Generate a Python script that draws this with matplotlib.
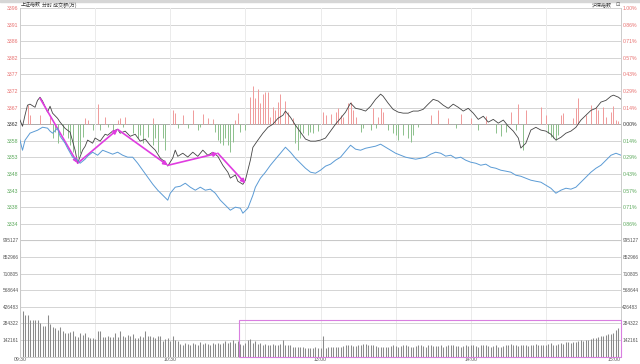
import numpy as np
import matplotlib
matplotlib.use("Agg")
import matplotlib.pyplot as plt
from matplotlib.patches import Rectangle

plt.rcParams['font.family'] = ['Liberation Sans', 'Noto Sans CJK SC', 'DejaVu Sans']

prev_close = 3362.4

# 上证指数 分时 (minute index, price)
sh_min = [0, 1, 2, 3, 4, 6, 7, 8, 9, 11, 12, 13, 15, 16, 17, 18, 20, 22, 23, 25,
          26, 27, 29, 30, 32, 34, 35, 37, 39, 40, 42, 44, 46, 48, 50, 52, 54, 56, 58, 59,
          61, 62, 63, 65, 67, 69, 71, 73, 75, 77, 79, 81, 83, 84, 86, 87, 89, 90, 92, 93,
          95, 97, 99, 101, 103, 105, 106, 108, 110, 112, 114, 116, 118, 120, 122, 124, 126, 128, 130, 132,
          134, 136, 138, 140, 142, 144, 145, 147, 149, 151, 153, 155, 157, 159, 161, 163, 165, 167, 169, 171,
          173, 175, 177, 179, 181, 183, 185, 187, 189, 191, 193, 195, 197, 199, 200, 202, 204, 206, 208, 210,
          212, 214, 216, 218, 220, 222, 224, 226, 228, 230, 232, 234, 236, 237, 239, 240]
sh_price = [3363.6, 3361.8, 3365.0, 3367.9, 3368.2, 3367.3, 3369.3, 3370.2, 3369.1, 3365.9,
            3367.6, 3365.6, 3364.1, 3363.0, 3362.1, 3361.2, 3360.1, 3354.9, 3351.1, 3354.9,
            3356.0, 3357.8, 3356.9, 3358.4, 3357.5, 3359.5, 3359.2, 3360.4, 3360.9, 3359.8,
            3360.4, 3358.9, 3359.5, 3357.5, 3358.1, 3356.3, 3354.9, 3352.6, 3351.4, 3350.3,
            3352.6, 3354.9, 3353.1, 3354.0, 3352.9, 3354.3, 3353.1, 3354.9, 3353.4, 3354.3,
            3353.1, 3350.5, 3348.5, 3346.8, 3347.7, 3345.9, 3345.0, 3346.2, 3352.0, 3355.7,
            3357.8, 3359.8, 3361.5, 3362.4, 3364.1, 3365.0, 3366.2, 3364.4, 3362.1, 3360.1,
            3358.1, 3357.5, 3357.5, 3357.8, 3358.4, 3360.4, 3362.4, 3364.1, 3365.9, 3368.5,
            3367.0, 3366.7, 3366.2, 3367.6, 3369.6, 3371.1, 3370.5, 3368.5, 3366.7, 3365.9,
            3365.6, 3365.6, 3366.2, 3366.2, 3366.7, 3368.2, 3369.6, 3369.1, 3367.9, 3367.0,
            3368.2, 3367.3, 3366.2, 3367.0, 3365.6, 3363.8, 3364.7, 3363.0, 3363.8, 3362.7,
            3363.6, 3361.8, 3360.4, 3358.4, 3355.5, 3356.9, 3360.7, 3361.5, 3360.7, 3360.4,
            3359.5, 3357.8, 3358.6, 3359.8, 3360.4, 3361.5, 3363.6, 3365.0, 3366.4, 3367.0,
            3368.8, 3369.3, 3370.5, 3370.8, 3370.2, 3369.6]

# 沪深 index, change in percent (blue)
hs_min = [0, 1, 2, 4, 6, 7, 9, 11, 12, 13, 15, 16, 18, 19, 21, 23, 24, 26, 27, 29,
          31, 33, 35, 37, 39, 41, 43, 45, 47, 49, 51, 53, 55, 57, 59, 60, 62, 64, 66, 68,
          70, 72, 74, 76, 78, 80, 82, 84, 86, 88, 89, 91, 93, 94, 96, 98, 100, 102, 104, 106,
          108, 110, 112, 114, 116, 118, 120, 122, 124, 126, 128, 130, 132, 134, 136, 138, 140, 142, 144, 146,
          148, 150, 152, 154, 156, 158, 160, 162, 164, 166, 168, 170, 172, 174, 176, 178, 180, 182, 184, 186,
          188, 190, 192, 194, 196, 198, 200, 202, 204, 206, 208, 210, 212, 214, 216, 218, 220, 222, 224, 226,
          228, 230, 232, 234, 236, 238, 240]
hs_pct = [-0.138, -0.224, -0.138, -0.077, -0.060, -0.052, -0.026, -0.034, -0.060, -0.077,
          -0.034, -0.103, -0.164, -0.207, -0.284, -0.310, -0.336, -0.301, -0.275, -0.241,
          -0.267, -0.224, -0.241, -0.258, -0.241, -0.267, -0.284, -0.284, -0.336, -0.396,
          -0.456, -0.516, -0.568, -0.611, -0.654, -0.594, -0.542, -0.534, -0.508, -0.542,
          -0.568, -0.542, -0.568, -0.559, -0.594, -0.654, -0.697, -0.740, -0.714, -0.723,
          -0.766, -0.723, -0.611, -0.542, -0.465, -0.413, -0.353, -0.301, -0.250, -0.198,
          -0.241, -0.293, -0.336, -0.379, -0.413, -0.422, -0.396, -0.361, -0.344, -0.310,
          -0.284, -0.232, -0.181, -0.215, -0.224, -0.207, -0.198, -0.189, -0.172, -0.198,
          -0.224, -0.250, -0.267, -0.284, -0.293, -0.301, -0.293, -0.284, -0.258, -0.241,
          -0.250, -0.275, -0.267, -0.293, -0.284, -0.310, -0.327, -0.336, -0.353, -0.344,
          -0.370, -0.379, -0.396, -0.404, -0.413, -0.439, -0.448, -0.465, -0.482, -0.491,
          -0.499, -0.525, -0.551, -0.594, -0.568, -0.551, -0.559, -0.542, -0.499, -0.456,
          -0.413, -0.379, -0.353, -0.310, -0.267, -0.250, -0.267]

# red / green bars around the previous close (points)
up_min = [3, 4, 8, 12, 26, 27, 31, 34, 39, 40, 42, 53, 61, 62, 65, 69, 73, 75, 77, 86,
          87, 92, 93, 94, 95, 96, 97, 98, 99, 100, 101, 102, 103, 104, 106, 107, 109, 121, 122, 124,
          126, 127, 128, 129, 131, 132, 133, 134, 141, 143, 144, 145, 164, 167, 171, 176, 180, 186, 196, 199,
          202, 208, 210, 216, 217, 221, 222, 223, 226, 228, 230, 231, 233, 234, 236, 237, 238, 239]
up_val = [5.5, 2.6, 2.6, 2.0, 1.7, 1.2, 5.8, 2.0, 1.2, 1.7, 2.0, 1.7, 4.0, 3.2, 2.6, 4.0, 2.9, 1.7, 1.4, 1.2,
          3.2, 7.8, 11.0, 7.5, 10.1, 6.1, 8.7, 9.3, 9.3, 2.0, 4.9, 4.0, 6.4, 8.7, 6.6, 3.5, 1.7, 3.5, 2.6, 2.9,
          3.5, 4.6, 2.6, 2.0, 6.1, 6.4, 4.0, 2.0, 4.6, 2.0, 4.6, 3.5, 2.6, 4.0, 1.7, 2.9, 1.7, 2.3, 3.5, 5.8,
          4.0, 4.9, 2.6, 2.6, 3.2, 1.7, 4.6, 7.5, 2.6, 5.5, 4.9, 4.0, 4.9, 2.0, 3.5, 5.2, 1.2, 0.9]
down_min = [13, 14, 15, 17, 19, 20, 21, 23, 24, 25, 29, 32, 35, 37, 41, 45, 47, 48, 49, 51,
            53, 54, 55, 57, 58, 63, 67, 71, 72, 78, 79, 80, 81, 82, 83, 84, 85, 88, 90, 110,
            111, 112, 113, 115, 116, 117, 119, 136, 137, 140, 142, 147, 149, 150, 151, 153, 155, 156, 157, 159,
            174, 183, 190, 192, 194, 198, 201, 211, 212, 213, 214, 215]
down_val = [4.0, 2.3, 5.5, 3.2, 4.0, 6.1, 8.1, 9.8, 8.4, 3.8, 1.7, 1.7, 0.9, 1.7, 0.9, 2.6, 4.0, 3.2, 5.5, 3.8,
            6.1, 4.0, 8.1, 4.0, 7.5, 1.2, 1.2, 1.7, 0.9, 2.3, 4.6, 5.5, 6.1, 4.0, 6.1, 8.1, 5.2, 2.3, 1.7, 5.5,
            7.5, 4.0, 2.6, 3.2, 2.3, 2.6, 2.0, 2.3, 1.2, 1.7, 1.2, 1.7, 2.6, 3.2, 4.6, 3.2, 4.0, 5.2, 3.2, 0.9,
            1.2, 1.7, 2.6, 3.5, 2.3, 1.7, 7.5, 2.6, 3.8, 4.0, 4.6, 3.2]

# 成交额(万), one bar per minute, in thousands
vol_k = [912, 389, 360, 352, 311, 311, 317, 311, 289, 266,
         260, 360, 283, 255, 246, 232, 255, 217, 203, 203,
         209, 217, 174, 169, 203, 189, 203, 169, 160, 160,
         154, 217, 217, 172, 169, 174, 169, 169, 203, 172,
         217, 174, 169, 189, 180, 195, 160, 160, 174, 169,
         217, 174, 180, 169, 160, 174, 180, 131, 154, 160,
         131, 180, 146, 131, 112, 103, 117, 112, 103, 117,
         112, 103, 123, 112, 117, 112, 103, 117, 109, 117,
         112, 120, 137, 117, 125, 146, 120, 137, 112, 103,
         115, 146, 150, 120, 130, 112, 120, 103, 112, 103,
         103, 112, 103, 103, 112, 140, 103, 97, 97, 83,
         80, 83, 80, 83, 74, 70, 74, 77, 80, 70,
         74, 180, 74, 83, 83, 86, 86, 83, 86, 92,
         103, 103, 97, 92, 92, 97, 103, 112, 112, 103,
         103, 97, 92, 86, 83, 86, 83, 86, 92, 97,
         92, 86, 92, 97, 100, 92, 86, 83, 92, 103,
         100, 92, 86, 97, 103, 92, 89, 92, 97, 86,
         92, 97, 103, 97, 92, 89, 86, 92, 97, 92,
         100, 97, 92, 86, 97, 103, 97, 89, 86, 92,
         97, 86, 83, 89, 97, 103, 112, 103, 97, 92,
         97, 103, 97, 92, 97, 103, 112, 103, 97, 100,
         103, 112, 117, 100, 103, 112, 117, 112, 123, 123,
         117, 123, 123, 130, 140, 137, 146, 140, 150, 160,
         160, 170, 180, 175, 189, 197, 190, 203, 232, 246,
         17]

# hand-drawn trend arrows (minute, price) and the highlight box
arrow_min = [8, 23, 39, 59, 79, 90]
arrow_price = [3369.9, 3351.1, 3360.9, 3350.5, 3354.0, 3345.3]
box_from_min = 87.5
box_top = 317000

time_ticks = [0, 60, 120, 180, 240]
time_labels = ["09:30", "10:30", "13:00", "14:00", "15:00"]

vol_step = 142161
step = prev_close * 0.01 / 7
RED = "#e8706f"
GREEN = "#5aa85a"
GRID = "#d4d4d4"
VGRID = "#ebebeb"
FS = 3.7
CJK = ['Noto Sans CJK SC', 'DejaVu Sans']

fig = plt.figure(figsize=(6.4, 3.64), dpi=100)
L, R = 20 / 640, 621 / 640
top_y, mid_y, bot_y = 1 - 8 / 364, 1 - 240.4 / 364, 1 - 356.6 / 364
ax = fig.add_axes([L, mid_y, R - L, top_y - mid_y])
axv = fig.add_axes([L, bot_y, R - L, mid_y - bot_y])
axp = ax.twinx()

minutes = np.arange(len(vol_k))

# price panel
ax.set_xlim(0, 240)
ax.set_ylim(prev_close - 7 * step, prev_close + 7 * step)
axp.set_ylim(-1, 1)
for k in range(-6, 8):
    ax.axhline(prev_close + k * step, color="#aaaaaa" if k == 0 else GRID, lw=0.7, zorder=0)
for t in range(30, 240, 30):
    ax.axvline(t, color=VGRID, lw=0.7, zorder=0)
    axv.axvline(t, color=VGRID, lw=0.7, zorder=0)

ax.vlines(up_min, prev_close, prev_close + np.array(up_val), color="#f09a9a", lw=0.7, zorder=1)
ax.vlines(down_min, prev_close, prev_close - np.array(down_val), color="#8cc08c", lw=0.7, zorder=1)
axp.plot(hs_min, hs_pct, color="#5b9bd5", lw=0.7, zorder=2)
ax.plot(sh_min, sh_price, color="#444444", lw=0.6, zorder=3)

for i in range(len(arrow_min) - 1):
    ax.annotate("", xy=(arrow_min[i + 1], arrow_price[i + 1]), xytext=(arrow_min[i], arrow_price[i]),
                arrowprops=dict(arrowstyle="-|>", color="#e03ce0", lw=1.2,
                                mutation_scale=6, shrinkA=0, shrinkB=0), zorder=5)

ticks = [prev_close + k * step for k in range(-6, 8)]
ax.set_yticks(ticks)
ax.set_yticklabels([f"{v:.0f}" for v in ticks])
for lbl, k in zip(ax.get_yticklabels(), range(-6, 8)):
    lbl.set_color(RED if k > 0 else GREEN if k < 0 else "#333333")
pct = [k / 7 for k in range(-6, 8)]
axp.set_yticks(pct)
axp.set_yticklabels([f"{abs(p):.2f}%" for p in pct])
for lbl, k in zip(axp.get_yticklabels(), range(-6, 8)):
    lbl.set_color(RED if k > 0 else GREEN if k < 0 else "#333333")
for a in (ax, axp):
    a.tick_params(length=0, labelsize=FS, pad=1.5)
    a.set_xticks([])
    for s in a.spines.values():
        s.set_visible(False)
ax.spines["left"].set_visible(True)
ax.spines["left"].set_color("#cccccc")
ax.spines["right"].set_visible(True)
ax.spines["right"].set_color("#cccccc")
ax.spines["left"].set_linewidth(0.7)
ax.spines["right"].set_linewidth(0.7)

# volume panel
vol = np.array(vol_k) * 1000
axv.set_xlim(0, 240)
axv.set_ylim(0, 7 * vol_step)
for k in range(0, 8):
    axv.axhline(k * vol_step, color="#c8c8c8" if k == 7 else GRID, lw=0.8 if k == 7 else 0.7, zorder=0)
axv.vlines(minutes, 0, vol, color="#8a8a8a", lw=0.75, zorder=2)
axv.add_patch(Rectangle((box_from_min, 0), 240 - box_from_min, box_top, fill=False,
                        edgecolor="#d97fe0", lw=0.8, zorder=4, clip_on=False))
vticks = [k * vol_step for k in range(1, 8)]
axv.set_yticks(vticks)
axv.set_yticklabels([str(v) for v in vticks])
axv.tick_params(axis="y", length=0, labelsize=3.4, pad=1, labelcolor="#555555", labelright=True)
axv.set_xticks(time_ticks)
axv.set_xticklabels(time_labels)
axv.tick_params(axis="x", length=0, labelsize=FS, pad=0.5, labelcolor="#555555")
xl = axv.get_xticklabels()
xl[-1].set_ha("right")
for s in axv.spines.values():
    s.set_visible(False)
for side in ("left", "right", "bottom"):
    axv.spines[side].set_visible(True)
    axv.spines[side].set_color("#cccccc")
    axv.spines[side].set_linewidth(0.7)

# header
fig.patches.append(Rectangle((0, 1 - 2 / 364), 1, 2 / 364, transform=fig.transFigure,
                             color="#d6d6d6", zorder=0))
fig.text(21 / 640, 1 - 5 / 364, "上证指数", fontsize=3.6, color="#333333", va="center", family=CJK)
fig.text(42 / 640, 1 - 5 / 364, "分时 成交额(万)", fontsize=3.6, color="#333333", va="center", family=CJK)
fig.text(612 / 640, 1 - 5 / 364, "沪深指数", fontsize=3.6, color="#333333", va="center", ha="right",
         family=CJK)
fig.text(615 / 640, 1 - 5 / 364, "⊡", fontsize=FS, color="#555555", va="center",
         family=["DejaVu Sans"])

fig.savefig("out.png", dpi=100)
